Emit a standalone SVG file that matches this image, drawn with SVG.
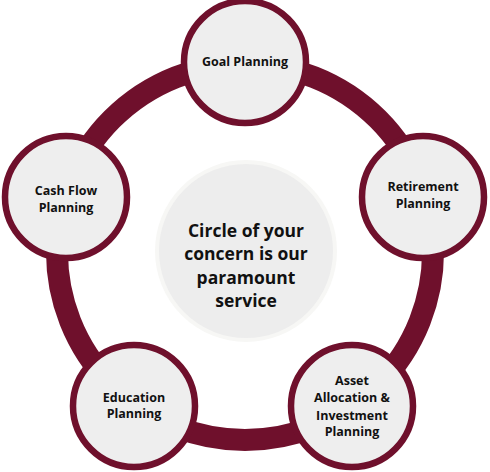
<svg xmlns="http://www.w3.org/2000/svg" width="490" height="472" viewBox="0 0 490 472">
<style>
.node circle{fill:#eeeeee;stroke:#6f102c;stroke-width:6.5}
.lbl{font-family:"Open Sans","Liberation Sans",sans-serif;font-weight:700;font-size:12.5px;fill:#111;text-anchor:middle}
.ctr{font-family:"Open Sans","Liberation Sans",sans-serif;font-weight:700;font-size:17.5px;fill:#111;text-anchor:middle}
</style>
<rect width="490" height="472" fill="#ffffff"/>
<g id="connectors">
<circle cx="245" cy="252" r="188" fill="none" stroke="#6f102c" stroke-width="22"/>
</g>
<g id="center">
<circle cx="246" cy="251" r="89" fill="#ededed" stroke="#f7f7f5" stroke-width="4"/>
<text class="ctr" x="246" y="236.5">Circle of your</text>
<text class="ctr" x="246" y="260">concern is our</text>
<text class="ctr" x="246" y="283.5">paramount</text>
<text class="ctr" x="246" y="307">service</text>
</g>
<g id="goal" class="node">
<circle cx="245" cy="62" r="61"/>
<text class="lbl" x="245" y="66">Goal Planning</text>
</g>
<g id="retirement" class="node">
<circle cx="423" cy="197" r="61"/>
<text class="lbl" x="423" y="191">Retirement</text>
<text class="lbl" x="423" y="208">Planning</text>
</g>
<g id="asset" class="node">
<circle cx="352" cy="406" r="61"/>
<text class="lbl" x="352" y="385">Asset</text>
<text class="lbl" x="352" y="402">Allocation &amp;</text>
<text class="lbl" x="352" y="420">Investment</text>
<text class="lbl" x="352" y="436">Planning</text>
</g>
<g id="education" class="node">
<circle cx="134" cy="406" r="61"/>
<text class="lbl" x="134" y="402">Education</text>
<text class="lbl" x="134" y="418">Planning</text>
</g>
<g id="cashflow" class="node">
<circle cx="66" cy="197" r="61"/>
<text class="lbl" x="66" y="195">Cash Flow</text>
<text class="lbl" x="66" y="212">Planning</text>
</g>
</svg>
